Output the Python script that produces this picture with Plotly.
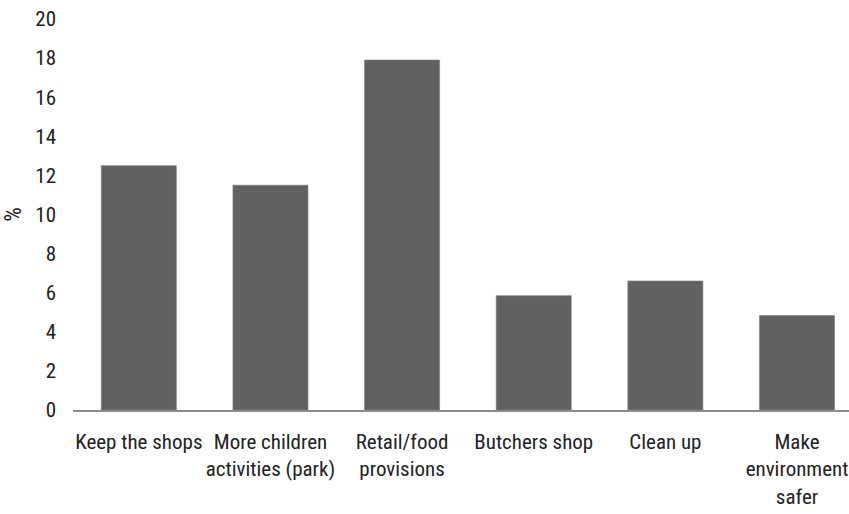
import plotly.graph_objects as go

categories = ["Keep the shops", "More children<br>activities (park)", "Retail/food<br>provisions",
              "Butchers shop", "Clean up", "Make<br>environment<br>safer"]
values = [12.5, 11.5, 17.9, 5.85, 6.6, 4.83]
y_ticks = list(range(0, 21, 2))

FONT = "Roboto Condensed, Liberation Sans Narrow, sans-serif"

fig = go.Figure(go.Bar(
    x=list(range(len(categories))), y=values,
    marker=dict(color="#616161", line=dict(color="#7a7a7a", width=0.6)),
    width=0.57,
))

fig.update_layout(
    width=849, height=514,
    margin=dict(l=73, r=0, t=19, b=104),
    paper_bgcolor="white", plot_bgcolor="white",
    font=dict(family=FONT, size=21, color="#222222"),
    showlegend=False,
)
fig.update_xaxes(
    range=[-0.5, 5.395],
    tickmode="array", tickvals=list(range(len(categories))), ticktext=categories,
    showline=True, linecolor="#8c8c8c", linewidth=1.5,
    showgrid=False, ticks="", zeroline=False,
    tickangle=0, ticklabeloverflow="allow",
    ticklabelstandoff=12,
)
fig.update_yaxes(
    range=[0, 20], tickmode="array", tickvals=y_ticks,
    showgrid=False, zeroline=False, showline=False, ticks="",
    ticklabelstandoff=16,
    title=dict(text="%", standoff=8, font=dict(size=23)),
)

fig.write_html("out.html")
